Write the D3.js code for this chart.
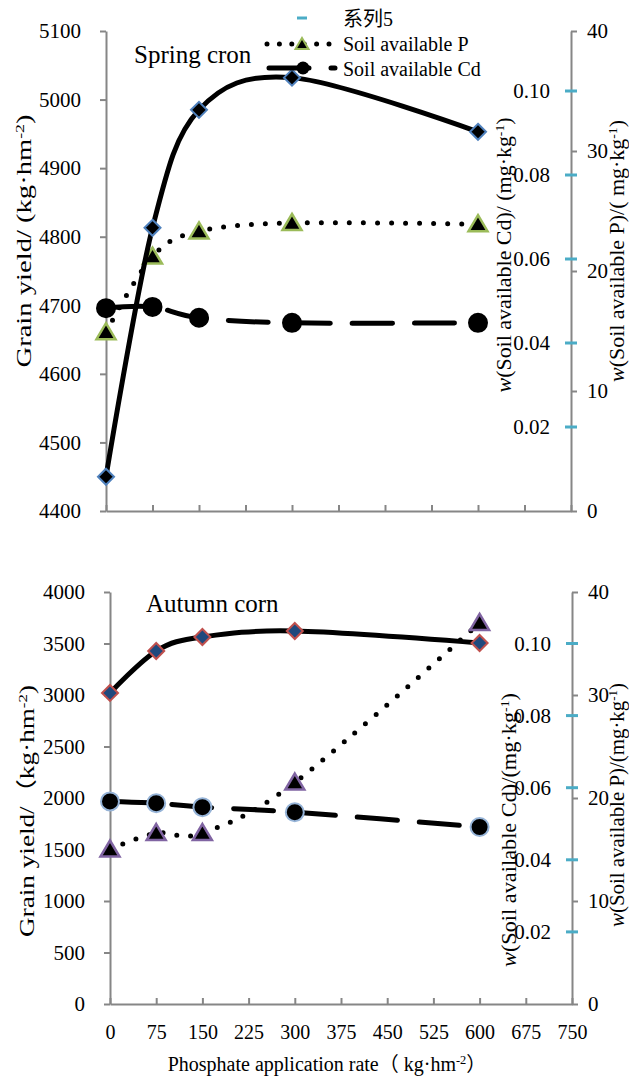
<!DOCTYPE html>
<html>
<head>
<meta charset="utf-8">
<script src="https://cdn.jsdelivr.net/npm/d3@7"></script>
<style>
body { margin: 0; background: #fff; }
</style>
</head>
<body>
<svg id="chart" width="629" height="1077"></svg>
<script>
// phosphate rates and axis ticks
const rates = [0, 75, 150, 300, 600]
const rateTicks = [0, 75, 150, 225, 300, 375, 450, 525, 600, 675, 750]
const pTicks = [0, 10, 20, 30, 40]
const cdTicks = [0.02, 0.04, 0.06, 0.08, 0.10]

// spring corn
const springYieldTicks = [4400, 4500, 4600, 4700, 4800, 4900, 5000, 5100]
const springYield = [4450, 4813, 4985, 5032, 4953]
const springP = [14.9, 21.2, 23.3, 24.0, 23.9]
const springCd = [0.0483, 0.0486, 0.0460, 0.0448, 0.0448]

// autumn corn
const autumnYieldTicks = [0, 500, 1000, 1500, 2000, 2500, 3000, 3500, 4000]
const autumnYield = [3020, 3427, 3563, 3621, 3505]
const autumnP = [15.0, 16.6, 16.6, 21.5, 37.0]
const autumnCd = [0.0562, 0.0557, 0.0546, 0.0532, 0.0491]

const FONT = "'Liberation Serif', 'Noto Sans CJK SC', serif"
const svg = d3.select('#chart')
const axisColor = '#868686'

// text with superscript / italic pieces
function rich(sel, parts) {
	parts.forEach(p => {
		let t = sel.append('tspan').text(p[0])
		if (p[1] == 'sup') t.attr('font-size', '0.62em').attr('dy', '-0.55em')
		if (p[1] == 'back') t.attr('dy', '0.34em')
		if (p[1] == 'it') t.attr('font-style', 'italic')
	})
	return sel
}

function styleAxis(g, size) {
	g.attr('font-family', FONT).attr('font-size', size)
	g.select('.domain').attr('stroke', axisColor).attr('stroke-width', 2)
	g.selectAll('.tick line').attr('stroke', axisColor).attr('stroke-width', 2)
	g.selectAll('.tick text').attr('fill', '#000')
}

function vTitle(g, x, y, len, parts) {
	rich(g.append('text').attr('font-size', 21).attr('text-anchor', 'middle')
		.attr('textLength', len).attr('lengthAdjust', 'spacingAndGlyphs')
		.attr('transform', 'translate(' + x + ',' + y + ') rotate(-90)'), parts)
}

const diamond = 'M0,-8L8,0L0,8L-8,0Z'
const triangle = 'M0,-9L9.5,7L-9.5,7Z'

function drawPanel(p) {
	let g = svg.append('g')
	let x = d3.scaleLinear().domain([0, 750]).range([p.left, p.right])
	let y = d3.scaleLinear().domain(d3.extent(p.yTicks)).range([p.bottom, p.top])
	let yP = d3.scaleLinear().domain([0, 40]).range([p.bottom, p.top])
	let yCd = d3.scaleLinear().domain([0, 0.1 * 40 / 35]).range([p.bottom, p.top])

	// axes
	let ax = g.append('g').attr('transform', 'translate(0,' + p.bottom + ')')
		.call(d3.axisBottom(x).tickValues(rateTicks).tickSizeInner(-6).tickSizeOuter(0).tickPadding(21)
			.tickFormat(p.xLabels ? d3.format('d') : ''))
	styleAxis(ax, 20)

	let al = g.append('g').attr('transform', 'translate(' + p.left + ',0)')
		.call(d3.axisLeft(y).tickValues(p.yTicks).tickSize(6).tickSizeOuter(0).tickPadding(19).tickFormat(d3.format('d')))
	styleAxis(al, 21)

	let ar = g.append('g').attr('transform', 'translate(' + p.right + ',0)')
		.call(d3.axisRight(yP).tickValues(pTicks).tickSize(6).tickSizeOuter(0).tickPadding(10).tickFormat(d3.format('d')))
	styleAxis(ar, 21)

	// Cd labels + series 5 ticks
	g.selectAll('text.cd').data(cdTicks).join('text')
		.attr('class', 'cd')
		.attr('x', p.right - 21)
		.attr('y', d => yCd(d))
		.attr('dy', '0.35em')
		.attr('text-anchor', 'end')
		.attr('font-size', 21)
		.text(d3.format('.2f'))

	// series
	let line = d3.line().curve(d3.curveCardinal.tension(0))
	let pts = (vals, sc) => rates.map((r, i) => [x(r), sc(vals[i])])

	let cdPts = pts(p.cd, yCd)
	g.append('path').attr('d', line(cdPts)).attr('fill', 'none')
		.attr('stroke', '#000').attr('stroke-width', 5)
		.attr('stroke-dasharray', '40,22').attr('stroke-linecap', 'round')
	g.selectAll('circle.cd').data(cdPts).join('circle')
		.attr('cx', d => d[0]).attr('cy', d => d[1]).attr('r', 9)
		.attr('fill', '#000').attr('stroke', p.cdStroke).attr('stroke-width', 2)

	let pPts = pts(p.p, yP)
	g.append('path').attr('d', line(pPts)).attr('fill', 'none')
		.attr('stroke', '#000').attr('stroke-width', 5)
		.attr('stroke-dasharray', '0,14').attr('stroke-linecap', 'round')
	g.selectAll('path.tri').data(pPts).join('path')
		.attr('class', 'tri')
		.attr('d', triangle)
		.attr('transform', d => 'translate(' + d[0] + ',' + d[1] + ')')
		.attr('fill', '#000').attr('stroke', p.triStroke).attr('stroke-width', 2.5)

	let yPts = pts(p.yield, y)
	g.append('path').attr('d', line(yPts)).attr('fill', 'none')
		.attr('stroke', '#000').attr('stroke-width', 5)
	g.selectAll('path.dia').data(yPts).join('path')
		.attr('class', 'dia')
		.attr('d', diamond)
		.attr('transform', d => 'translate(' + d[0] + ',' + d[1] + ')')
		.attr('fill', p.diaFill).attr('stroke', p.diaStroke).attr('stroke-width', 2)

	g.selectAll('line.s5').data(cdTicks).join('line')
		.attr('class', 's5')
		.attr('x1', p.right - 6).attr('x2', p.right + 6)
		.attr('y1', d => yCd(d)).attr('y2', d => yCd(d))
		.attr('stroke', '#4bacc6').attr('stroke-width', 3)

	// panel title
	g.append('text').attr('x', p.titleX).attr('y', p.titleY).attr('font-size', 25).text(p.title)

	// axis titles
	vTitle(g, p.leftTitleX, p.leftTitleY, p.leftTitleLen, p.leftTitle)
	vTitle(g, p.cdTitleX, p.cdTitleY, p.cdTitleLen, p.cdTitle)
	vTitle(g, 624, p.pTitleY, p.pTitleLen, p.pTitle)
}

drawPanel({
	top: 31, bottom: 511, left: 106, right: 571,
	yTicks: springYieldTicks, yield: springYield, p: springP, cd: springCd,
	xLabels: false,
	diaFill: '#000', diaStroke: '#4f81bd', triStroke: '#9bbb59', cdStroke: '#000',
	title: 'Spring cron', titleX: 134, titleY: 63,
	leftTitle: [['Grain yield/ (kg·hm'], ['-2', 'sup'], [')', 'back']],
	leftTitleX: 31, leftTitleY: 241, leftTitleLen: 253,
	cdTitle: [['w', 'it'], ['(Soil available Cd)/ (mg·kg'], ['-1', 'sup'], [')', 'back']],
	cdTitleX: 511, cdTitleY: 255, cdTitleLen: 275,
	pTitle: [['w', 'it'], ['(Soil available P)/( mg·kg'], ['-1', 'sup'], [')', 'back']],
	pTitleY: 251, pTitleLen: 262
})

drawPanel({
	top: 592, bottom: 1004, left: 110, right: 572,
	yTicks: autumnYieldTicks, yield: autumnYield, p: autumnP, cd: autumnCd,
	xLabels: true,
	diaFill: '#1f497d', diaStroke: '#c0504d', triStroke: '#8064a2', cdStroke: '#95b3d7',
	title: 'Autumn corn', titleX: 146, titleY: 612,
	leftTitle: [['Grain yield/（kg·hm'], ['-2', 'sup'], [')', 'back']],
	leftTitleX: 34, leftTitleY: 811, leftTitleLen: 252,
	cdTitle: [['w', 'it'], ['(Soil available Cd)/(mg·kg'], ['-1', 'sup'], [')', 'back']],
	cdTitleX: 516, cdTitleY: 830, cdTitleLen: 274,
	pTitle: [['w', 'it'], ['(Soil available P)/(mg·kg'], ['-1', 'sup'], [')', 'back']],
	pTitleY: 805, pTitleLen: 244
})

// x title
rich(svg.append('text').attr('x', 327).attr('y', 1071).attr('font-size', 20).attr('text-anchor', 'middle'),
	[['Phosphate application rate（ kg·hm'], ['-2', 'sup'], ['）', 'back']])

// legend
let lg = svg.append('g').attr('font-size', 20)
let legendRows = ['系列5', 'Soil available P', 'Soil available Cd']
lg.selectAll('text').data(legendRows).join('text')
	.attr('x', 343).attr('y', (d, i) => 19 + i * 25).attr('dy', '0.35em').text(d => d)
lg.append('line').attr('x1', 297).attr('x2', 307).attr('y1', 18).attr('y2', 18)
	.attr('stroke', '#4bacc6').attr('stroke-width', 3)
lg.append('line').attr('x1', 267).attr('x2', 329).attr('y1', 44).attr('y2', 44)
	.attr('stroke', '#000').attr('stroke-width', 5).attr('stroke-dasharray', '0,12.4').attr('stroke-linecap', 'round')
lg.append('path').attr('d', 'M0,-6L6.5,5L-6.5,5Z').attr('transform', 'translate(302,44)')
	.attr('fill', '#000').attr('stroke', '#9bbb59').attr('stroke-width', 2)
lg.append('line').attr('x1', 269).attr('x2', 335).attr('y1', 68).attr('y2', 68)
	.attr('stroke', '#000').attr('stroke-width', 5).attr('stroke-dasharray', '40,22').attr('stroke-linecap', 'round')
lg.append('circle').attr('cx', 303).attr('cy', 68).attr('r', 6.5).attr('fill', '#000')

// one serif face for every label
svg.selectAll('text').attr('font-family', FONT)
</script>
</body>
</html>
